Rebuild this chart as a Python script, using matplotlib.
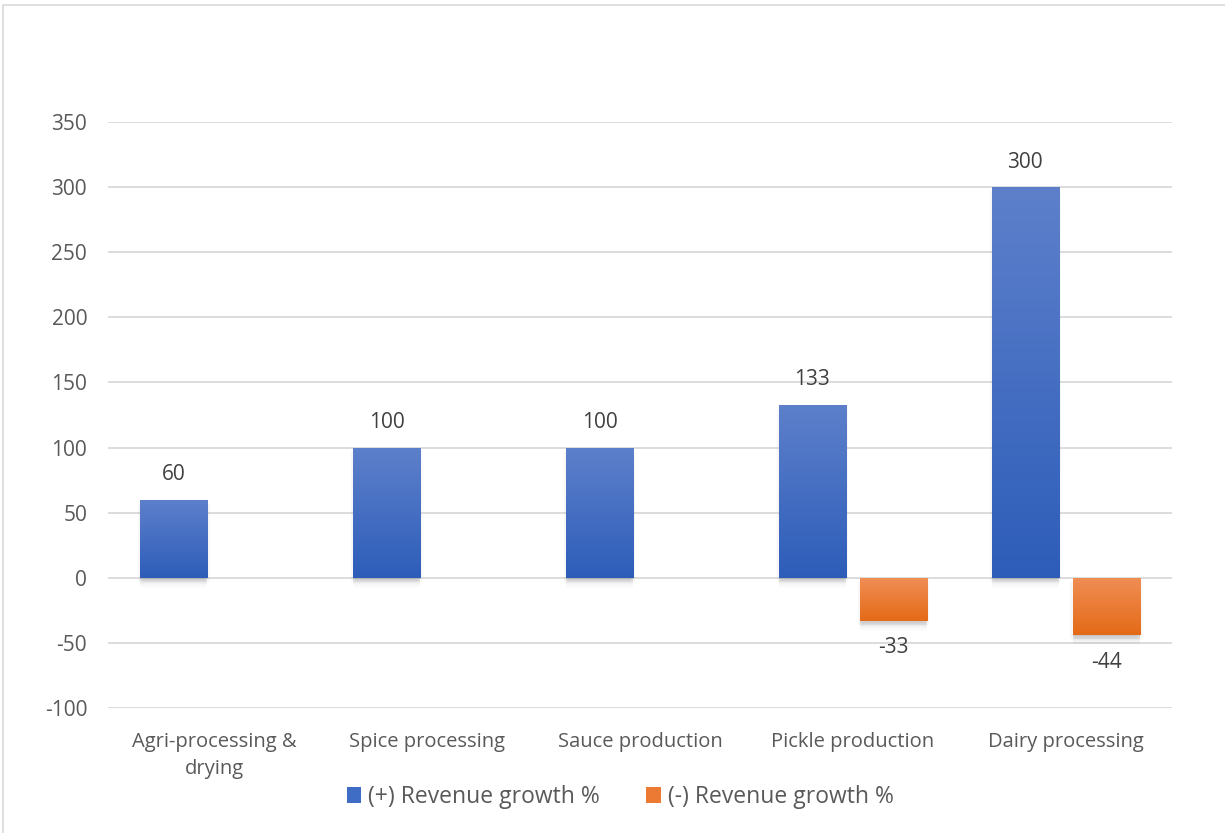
import numpy as np
import matplotlib
matplotlib.use("Agg")
import matplotlib.pyplot as plt
from matplotlib.patches import Patch, Rectangle
from matplotlib import patheffects as pe

plt.rcParams['font.family'] = ['Open Sans', 'DejaVu Sans']
plt.rcParams['axes.unicode_minus'] = False

categories = ['Agri-processing &\ndrying', 'Spice processing', 'Sauce production',
              'Pickle production', 'Dairy processing']
pos_growth = [60, 100, 100, 133, 300]
neg_growth = [None, None, None, -33, -44]
yticks = [-100, -50, 0, 50, 100, 150, 200, 250, 300, 350]

BLUE_TOP, BLUE_BOT = '#5E80CB', '#2D5DB9'
ORANGE_TOP, ORANGE_BOT = '#F08E55', '#E46A17'
TICK_COLOR = '#595959'
LABEL_COLOR = '#404040'
GRID_COLOR = '#D9D9D9'
FS = 14.5
NUM_FS = 15

fig = plt.figure(figsize=(12.25, 8.33), dpi=100)
ax = fig.add_axes([108 / 1225, 125 / 833, 1064 / 1225, 586 / 833])

# outer chart frame (left/top edges are visible)
fig.add_artist(Rectangle((3 / 1225, -0.1), 1.2, 1 - 5 / 833 + 0.1,
                         transform=fig.transFigure, fill=False,
                         edgecolor=GRID_COLOR, linewidth=1.2))

x = np.arange(len(categories))
width = 0.315
offset = 0.19

# soft drop shadow built from many faint offset copies
shadow = []
for dy in np.arange(0.5, 8.5, 1.0):
    shadow.append(pe.SimplePatchShadow(offset=(0, -dy), shadow_rgbFace='black',
                                       alpha=0.035 * (1 - dy / 10)))
for dx in (-1.5, 1.5):
    shadow.append(pe.SimplePatchShadow(offset=(dx, -3), shadow_rgbFace='black', alpha=0.03))


def gradient_bars(xs, vals, top, bot):
    bars = ax.bar(xs, vals, width, color=bot, zorder=3)
    cmap = matplotlib.colors.LinearSegmentedColormap.from_list('g', [bot, top])
    grad = np.linspace(0, 1, 256).reshape(-1, 1)
    for b in bars:
        b.set_path_effects(shadow + [pe.Normal()])
        x0, y0 = b.get_x(), b.get_y()
        x1, h = x0 + b.get_width(), b.get_height()
        lo, hi = min(y0, y0 + h), max(y0, y0 + h)
        im = ax.imshow(grad, cmap=cmap, extent=[x0, x1, lo, hi], origin='lower',
                       aspect='auto', zorder=4, interpolation='bicubic')
        im.set_clip_path(b)
    return bars


pos_bars = gradient_bars(x - offset, pos_growth, BLUE_TOP, BLUE_BOT)
neg_idx = [i for i, v in enumerate(neg_growth) if v is not None]
neg_vals = [neg_growth[i] for i in neg_idx]
neg_bars = gradient_bars(x[neg_idx] + offset, neg_vals, ORANGE_TOP, ORANGE_BOT)

for b, v in zip(pos_bars, pos_growth):
    ax.annotate(f'{v}', (b.get_x() + b.get_width() / 2, v), xytext=(0, 18),
                textcoords='offset points', ha='center', va='center',
                fontsize=NUM_FS, color=LABEL_COLOR)
for b, v in zip(neg_bars, neg_vals):
    ax.annotate(f'{v}', (b.get_x() + b.get_width() / 2, v), xytext=(0, -19.5),
                textcoords='offset points', ha='center', va='center',
                fontsize=NUM_FS, color=LABEL_COLOR)

ax.set_xlim(-0.5, len(categories) - 0.5)
ax.set_ylim(-100, 350)
ax.set_yticks(yticks)
ax.set_xticks(x)
ax.set_xticklabels(categories, fontsize=FS, color=TICK_COLOR, linespacing=1.5)
ax.tick_params(axis='y', labelsize=NUM_FS, labelcolor=TICK_COLOR, length=0, pad=15)
ax.tick_params(axis='x', length=0, pad=17)
ax.grid(axis='y', color=GRID_COLOR, linewidth=1.3, zorder=0)
ax.set_axisbelow(True)
for s in ax.spines.values():
    s.set_visible(False)

handles = [Patch(facecolor='#3F6CC4', label='(+) Revenue growth %'),
           Patch(facecolor='#EC7A33', label='(-) Revenue growth %')]
fig.legend(handles=handles, loc='center', bbox_to_anchor=(620 / 1225, 1 - 797 / 833),
           ncol=2, frameon=False, fontsize=16.5, labelcolor=TICK_COLOR,
           handlelength=0.65, handleheight=0.65, handletextpad=0.3, columnspacing=2.0)

fig.savefig('out.png', dpi=100, facecolor='white')
